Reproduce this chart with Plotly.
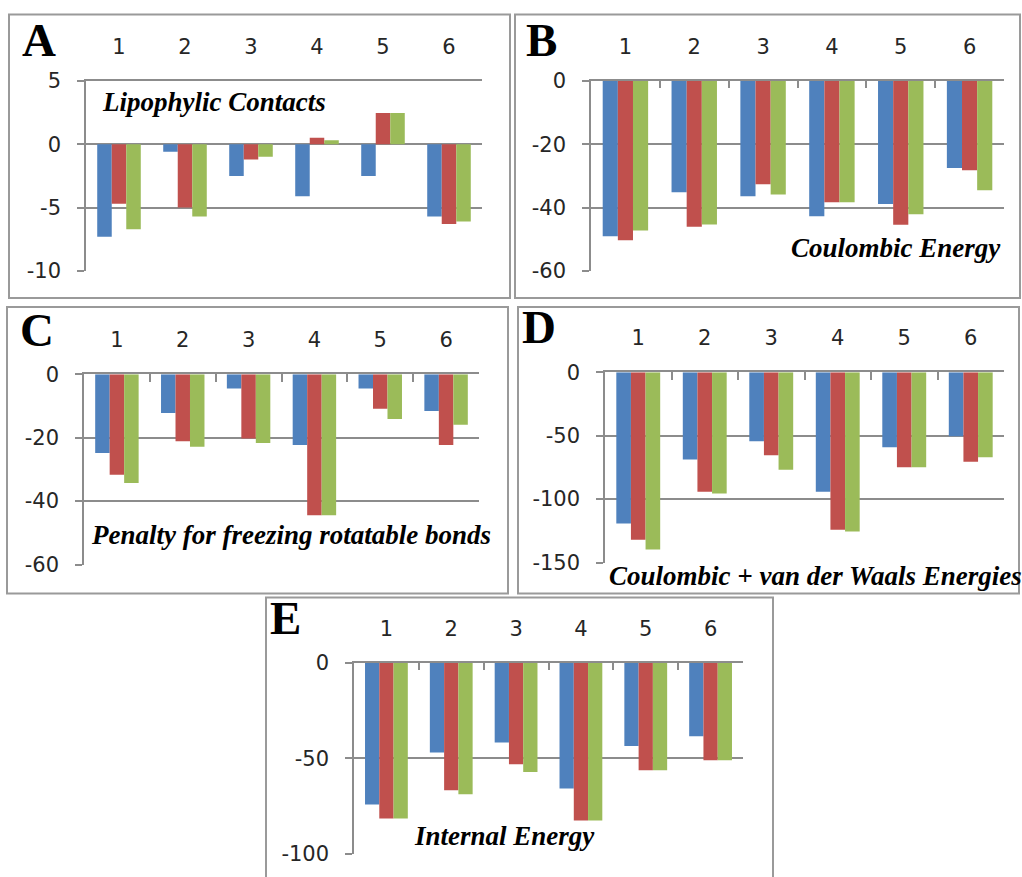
import plotly.graph_objects as go

W, H = 1022, 877

categories = ["1", "2", "3", "4", "5", "6"]
series_names = ["Series 1", "Series 2", "Series 3"]
colors = ["#4F81BD", "#C0504D", "#9BBB59"]

# Panel A: Lipophylic Contacts
A_s1 = [-7.3, -0.6, -2.5, -4.1, -2.5, -5.7]
A_s2 = [-4.7, -5.0, -1.2, 0.5, 2.45, -6.3]
A_s3 = [-6.7, -5.7, -1.0, 0.3, 2.45, -6.1]
A_ticks = [5, 0, -5, -10]
# Panel B: Coulombic Energy
B_s1 = [-49.0, -35.2, -36.4, -42.7, -38.9, -27.5]
B_s2 = [-50.3, -46.0, -32.6, -38.3, -45.4, -28.2]
B_s3 = [-47.2, -45.3, -35.9, -38.3, -42.1, -34.5]
B_ticks = [0, -20, -40, -60]
# Panel C: Penalty for freezing rotatable bonds
C_s1 = [-24.8, -12.2, -4.5, -22.3, -4.5, -11.6]
C_s2 = [-31.7, -21.1, -20.3, -44.5, -10.9, -22.3]
C_s3 = [-34.3, -22.9, -21.7, -44.5, -14.1, -15.9]
C_ticks = [0, -20, -40, -60]
# Panel D: Coulombic + van der Waals Energies
D_s1 = [-119.2, -68.7, -54.5, -94.2, -59.2, -50.5]
D_s2 = [-132.1, -94.2, -65.5, -124.2, -75.0, -70.5]
D_s3 = [-139.7, -95.5, -76.8, -125.5, -75.0, -67.1]
D_ticks = [0, -50, -100, -150]
# Panel E: Internal Energy
E_s1 = [-74.1, -46.9, -41.7, -65.7, -43.6, -38.4]
E_s2 = [-81.4, -66.7, -53.1, -82.5, -56.2, -51.0]
E_s3 = [-81.4, -68.8, -57.1, -82.5, -56.2, -51.0]
E_ticks = [0, -50, -100]

panels = [
    dict(letter="A", title="Lipophylic Contacts", data=[A_s1, A_s2, A_s3],
         ticks=A_ticks, xticks=False,
         plot=(86, 482, 81, 271), box=(9, 510, 15, 298),
         letter_pos=(20, 58), title_pos=(100, 102, "left")),
    dict(letter="B", title="Coulombic Energy", data=[B_s1, B_s2, B_s3],
         ticks=B_ticks, xticks=True,
         plot=(591, 1004, 81, 271), box=(515, 1020, 15, 298),
         letter_pos=(524, 58), title_pos=(1003, 248, "right")),
    dict(letter="C", title="Penalty for freezing rotatable bonds", data=[C_s1, C_s2, C_s3],
         ticks=C_ticks, xticks=True,
         plot=(84, 479, 374, 564), box=(7, 508, 307, 593),
         letter_pos=(18, 348), title_pos=(89, 535, "left")),
    dict(letter="D", title="Coulombic + van der Waals Energies", data=[D_s1, D_s2, D_s3],
         ticks=D_ticks, xticks=True,
         plot=(605, 1004, 372, 562), box=(518, 1019, 307, 593),
         letter_pos=(520, 345), title_pos=(607, 575, "left")),
    dict(letter="E", title="Internal Energy", data=[E_s1, E_s2, E_s3],
         ticks=E_ticks, xticks=True,
         plot=(354, 743, 662, 853), box=(266, 773, 597, 895),
         letter_pos=(268, 635), title_pos=(412, 835, "left")),
]

# vertical correction observed in the capture pipeline
def yp(y):
    yy = (y - 12.4) / 0.971
    return 1 - yy / H

GRAY = "#8C8C8C"
TICKFONT = dict(family="DejaVu Sans", size=21, color="#262626")
fig = go.Figure()
shapes = []
annotations = []

for i, p in enumerate(panels):
    n = "" if i == 0 else str(i + 1)
    xa, ya = "x" + n, "y" + n
    for k in range(3):
        fig.add_trace(go.Bar(
            x=categories, y=p["data"][k], name=series_names[k],
            marker=dict(color=colors[k], line=dict(width=0)),
            xaxis=xa, yaxis=ya, showlegend=False,
        ))
    x0, x1, y0, y1 = p["plot"]
    tv = p["ticks"]
    fig.layout["xaxis" + n] = dict(
        domain=[x0 / W, x1 / W], anchor=ya, side="top", type="category",
        showgrid=False, showline=True, linecolor=GRAY, linewidth=1.5,
        ticks="inside" if p["xticks"] else "", ticklen=8, tickcolor=GRAY, tickwidth=1.5,
        tickson="boundaries", ticklabelstandoff=17,
        tickfont=TICKFONT, fixedrange=True,
    )
    fig.layout["yaxis" + n] = dict(
        domain=[yp(y1), yp(y0)], anchor=xa, range=[min(tv), max(tv)],
        tickmode="array", tickvals=tv, ticktext=[str(v) for v in tv],
        showgrid=True, gridcolor=GRAY, gridwidth=1.5, zeroline=False,
        showline=True, linecolor=GRAY, linewidth=1.5,
        ticks="outside", ticklen=7, tickcolor=GRAY, tickwidth=1.5,
        tickfont=TICKFONT, ticklabelstandoff=12, fixedrange=True,
    )
    bx0, bx1, by0, by1 = p["box"]
    shapes.append(dict(type="rect", xref="paper", yref="paper",
                       x0=bx0 / W, x1=bx1 / W, y0=yp(by1), y1=yp(by0),
                       line=dict(color="#9A9A9A", width=2), fillcolor="rgba(0,0,0,0)"))
    lx, ly = p["letter_pos"]
    annotations.append(dict(text="<b>%s</b>" % p["letter"], xref="paper", yref="paper",
                            x=lx / W, y=yp(ly + 10), xanchor="left", yanchor="bottom",
                            showarrow=False,
                            font=dict(family="Liberation Serif", size=47, color="black")))
    tx, ty, anc = p["title_pos"]
    annotations.append(dict(text="<b><i>%s</i></b>" % p["title"], xref="paper", yref="paper",
                            x=tx / W, y=yp(ty), xanchor=anc, yanchor="middle",
                            showarrow=False,
                            font=dict(family="Liberation Serif", size=27, color="black")))

fig.update_layout(
    width=W, height=H, margin=dict(l=0, r=0, t=0, b=0),
    paper_bgcolor="white", plot_bgcolor="white",
    barmode="group", bargap=0.34, bargroupgap=0,
    shapes=shapes, annotations=annotations,
)

post = (
    "var d=document.getElementById('{plot_id}');"
    "d.style.position='fixed';d.style.left='0px';d.style.top='0px';"
    "document.documentElement.style.margin='0';document.body.style.margin='0';"
    "document.documentElement.style.overflow='hidden';document.body.style.overflow='hidden';"
)

fig.write_html("out.html", config={"displayModeBar": False}, post_script=post)
